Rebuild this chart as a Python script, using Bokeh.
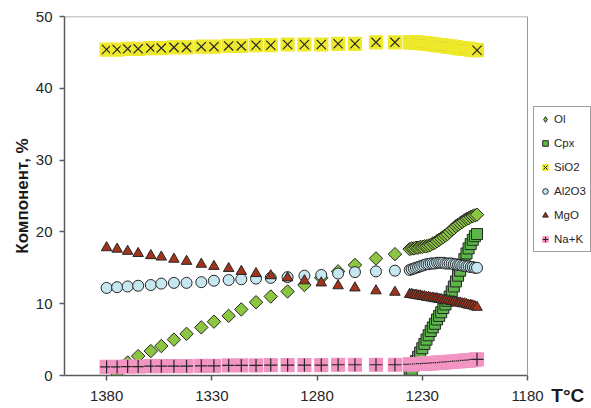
import numpy as np
from bokeh.plotting import figure
from bokeh.models import (Range1d, FixedTicker, Legend, LegendItem, Span,
                          ColumnDataSource)
from bokeh.embed import file_html
from bokeh.resources import INLINE

# Temperature steps of the crystallisation run, °C
temperature = [1380, 1375, 1370, 1365, 1359, 1354, 1348, 1342, 1335, 1329,
               1322, 1316, 1309, 1302, 1294, 1286, 1278, 1270, 1262, 1252,
               1243,
               1236, 1235, 1234, 1233, 1232, 1231, 1230, 1229, 1228, 1227,
               1226, 1225, 1224, 1223, 1222, 1221, 1220, 1219, 1218, 1217,
               1216, 1215, 1214, 1213, 1212, 1211, 1210, 1209, 1208, 1207,
               1206, 1205, 1204]

# Component contents, %  (None = phase absent)
ol = [None, 0.3, 1.8, 2.7, 3.4, 4.1, 5.0, 5.8, 6.7, 7.5,
      8.3, 9.2, 10.2, 11.0, 11.7, 12.6, 13.6, 14.5, 15.4, 16.3,
      16.9,
      17.6, 17.7, 17.7, 17.8, 17.8, 17.9, 17.9, 18.0, 18.0, 18.1,
      18.2, 18.4, 18.5, 18.7, 18.9, 19.1, 19.3, 19.5, 19.7, 20.0,
      20.3, 20.5, 20.8, 21.0, 21.2, 21.4, 21.6, 21.8, 21.9, 22.1,
      22.2, 22.3, 22.4]

cpx = [None] * 21 + [
      0.2, 0.8, 1.4, 2.0, 2.6, 3.2, 3.8, 4.4, 5.0, 5.6,
      6.2, 6.7, 7.2, 7.8, 8.3, 8.8, 9.4, 9.9, 10.4, 11.0,
      11.7, 12.4, 13.1, 13.9, 14.6, 15.4, 16.2, 17.0, 17.7, 18.3,
      18.9, 19.4, 19.7]

sio2 = [45.4, 45.4, 45.5, 45.5, 45.6, 45.6, 45.7, 45.7, 45.8, 45.8,
        45.9, 45.9, 46.0, 46.0, 46.1, 46.1, 46.1, 46.2, 46.2, 46.4,
        46.4,
        46.4, 46.4, 46.4, 46.4, 46.4, 46.3, 46.3, 46.3, 46.2, 46.2,
        46.2, 46.1, 46.1, 46.0, 46.0, 46.0, 45.9, 45.9, 45.8, 45.8,
        45.8, 45.7, 45.7, 45.6, 45.6, 45.6, 45.5, 45.5, 45.5, 45.4,
        45.4, 45.3, 45.3]

al2o3 = [12.2, 12.3, 12.4, 12.5, 12.6, 12.8, 12.9, 12.9, 13.0, 13.2,
         13.3, 13.4, 13.5, 13.6, 13.7, 13.9, 14.0, 14.2, 14.4, 14.5,
         14.6,
         14.7, 14.8, 14.9, 15.0, 15.1, 15.2, 15.3, 15.4, 15.5, 15.5,
         15.6, 15.6, 15.6, 15.7, 15.7, 15.7, 15.7, 15.6, 15.6, 15.6,
         15.6, 15.5, 15.5, 15.4, 15.4, 15.3, 15.3, 15.2, 15.2, 15.1,
         15.1, 15.0, 15.0]

mgo = [17.8, 17.6, 17.3, 17.0, 16.7, 16.5, 16.2, 15.9, 15.5, 15.2,
       14.9, 14.5, 14.2, 13.9, 13.6, 13.2, 12.9, 12.5, 12.2, 11.8,
       11.6,
       11.3, 11.3, 11.2, 11.2, 11.1, 11.1, 11.0, 11.0, 10.9, 10.9,
       10.8, 10.8, 10.7, 10.7, 10.6, 10.6, 10.5, 10.5, 10.4, 10.4,
       10.3, 10.3, 10.2, 10.1, 10.1, 10.0, 10.0, 9.9, 9.8, 9.8,
       9.7, 9.6, 9.5]

na_k = [1.2, 1.2, 1.25, 1.25, 1.3, 1.3, 1.3, 1.3, 1.35, 1.35,
        1.4, 1.4, 1.4, 1.45, 1.45, 1.45, 1.45, 1.5, 1.5, 1.5,
        1.5,
        1.55, 1.55, 1.55, 1.6, 1.6, 1.6, 1.65, 1.65, 1.65, 1.7,
        1.7, 1.7, 1.75, 1.75, 1.8, 1.8, 1.8, 1.85, 1.85, 1.9,
        1.9, 1.95, 1.95, 2.0, 2.0, 2.05, 2.05, 2.1, 2.1, 2.15,
        2.15, 2.2, 2.25]

x_ticks = [1380, 1330, 1280, 1230, 1180]
y_ticks = [0, 10, 20, 30, 40, 50]

# Axis extents; the x range runs on past 1180 to leave room for the
# legend and the "T°C" caption
T_HOT, T_COLD, T_PAD_END = 1400, 1180, 1149.6
Y_MIN, Y_MAX = 0, 50

FONT = "Liberation Sans"
EDGE = "#262626"
FRAME = "#9a9a9a"
OL_FILL = "#8CC540"
CPX_FILL = "#5BB848"
SIO2_FILL = "#EEE92C"
AL_FILL = "#C6E7EF"
MGO_FILL = "#A2341C"
NAK_FILL = "#F395C2"


def present(xs, ys):
    pts = [(x, y) for x, y in zip(xs, ys) if y is not None]
    return [q[0] for q in pts], [q[1] for q in pts]


def boxed_marker_source(xs, ys, symbol, fill):
    """Each point = a coloured box followed by a symbol, drawn in order."""
    d = dict(x=[], y=[], marker=[], size=[], fill=[], line=[])
    for x, y in zip(xs, ys):
        if y is None:
            continue
        d["x"] += [x, x]
        d["y"] += [y, y]
        d["marker"] += ["square", symbol]
        d["size"] += [13, 13]
        d["fill"] += [fill, fill]
        d["line"] += [fill, EDGE]
    return ColumnDataSource(d)


p = figure(width=591, height=408,
           x_range=Range1d(T_HOT, T_PAD_END), y_range=Range1d(Y_MIN, Y_MAX),
           output_backend="svg", toolbar_location=None,
           min_border_left=64, min_border_right=0,
           min_border_top=16, min_border_bottom=32)
p.grid.visible = False
p.outline_line_color = None
p.background_fill_color = "white"
p.border_fill_color = "white"

# light frame on top and right of the data area
p.add_layout(Span(location=T_COLD, dimension="height",
                  line_color=FRAME, line_width=1))
p.segment(x0=[T_HOT], y0=[Y_MAX], x1=[T_COLD], y1=[Y_MAX],
          line_color=FRAME, line_width=1.5)

for ax in (p.xaxis[0], p.yaxis[0]):
    ax.axis_line_color = "#5a5a5a"
    ax.axis_line_width = 1.5
    ax.major_tick_line_color = "#5a5a5a"
    ax.major_tick_line_width = 1.5
    ax.major_tick_out = 5
    ax.major_tick_in = 0
    ax.minor_tick_line_color = None
    ax.major_label_text_font = FONT
    ax.major_label_text_font_size = "15px"
    ax.major_label_text_color = "#262626"

xa = p.xaxis[0]
xa.ticker = FixedTicker(ticks=x_ticks)
xa.bounds = (T_COLD, T_HOT)
xa.major_label_standoff = 10
# caption is centred on the panel edge; trailing no-break spaces pull the
# visible characters back inside the page
xa.axis_label = "T°C" + "\u00a0" * 9
xa.axis_label_text_font = FONT
xa.axis_label_text_font_style = "bold"
xa.axis_label_text_font_size = "19px"
xa.axis_label_text_color = "#1a1a1a"
xa.axis_label_standoff = -19
xa.axis_label_align = "start"

ya = p.yaxis[0]
ya.ticker = FixedTicker(ticks=y_ticks)
ya.major_label_standoff = 7
ya.axis_label = "Компонент, %"
ya.axis_label_text_font = FONT
ya.axis_label_text_font_style = "bold"
ya.axis_label_text_font_size = "17px"
ya.axis_label_text_color = "#1a1a1a"
ya.axis_label_standoff = 1

# --- data series, drawn in legend order ---
ox, oy = present(temperature, ol)
r_ol = p.scatter(ox, oy, marker="square", angle=np.pi / 4, size=9.5,
                 fill_color=OL_FILL, line_color=EDGE, line_width=1)

cx, cy = present(temperature, cpx)
r_cpx = p.scatter(cx, cy, marker="square", size=11,
                  fill_color=CPX_FILL, line_color=EDGE, line_width=1)

p.scatter("x", "y", marker="marker", size="size", fill_color="fill",
          line_color="line", line_width=1.2,
          source=boxed_marker_source(temperature, sio2, "x", SIO2_FILL))

r_al = p.scatter(temperature, al2o3, marker="circle", size=11,
                 fill_color=AL_FILL, line_color=EDGE, line_width=1)

r_mgo = p.scatter(temperature, mgo, marker="triangle", size=10.5,
                  fill_color=MGO_FILL, line_color=EDGE, line_width=1)

p.scatter("x", "y", marker="marker", size="size", fill_color="fill",
          line_color="line", line_width=1.2,
          source=boxed_marker_source(temperature, na_k, "cross", NAK_FILL))

# --- legend swatches (no visible data) ---
nan = np.array([np.nan])
sw_ol = p.scatter(nan, nan, marker="diamond", fill_color=OL_FILL,
                  line_color=EDGE, line_width=1)
sw_si_box = p.scatter(nan, nan, marker="square", fill_color=SIO2_FILL,
                      line_color=SIO2_FILL)
sw_si_sym = p.scatter(nan, nan, marker="x", line_color=EDGE, line_width=1)
sw_nk_box = p.scatter(nan, nan, marker="square", fill_color=NAK_FILL,
                      line_color=NAK_FILL)
sw_nk_sym = p.scatter(nan, nan, marker="cross", line_color=EDGE, line_width=1)

legend = Legend(items=[
    LegendItem(label="Ol", renderers=[sw_ol]),
    LegendItem(label="Cpx", renderers=[r_cpx]),
    LegendItem(label="SiO2", renderers=[sw_si_box, sw_si_sym]),
    LegendItem(label="Al2O3", renderers=[r_al]),
    LegendItem(label="MgO", renderers=[r_mgo]),
    LegendItem(label="Na+K", renderers=[sw_nk_box, sw_nk_sym]),
], location=(469, 123), orientation="vertical",
    border_line_color="#404040", border_line_width=1,
    background_fill_color="white", background_fill_alpha=1,
    padding=4, spacing=8, margin=0,
    glyph_width=14, glyph_height=16, label_height=16, label_standoff=2,
    label_text_font=FONT, label_text_font_size="11.5px",
    label_text_color="#262626")
p.add_layout(legend, "center")

open("out.html", "w").write(file_html(p, INLINE))
